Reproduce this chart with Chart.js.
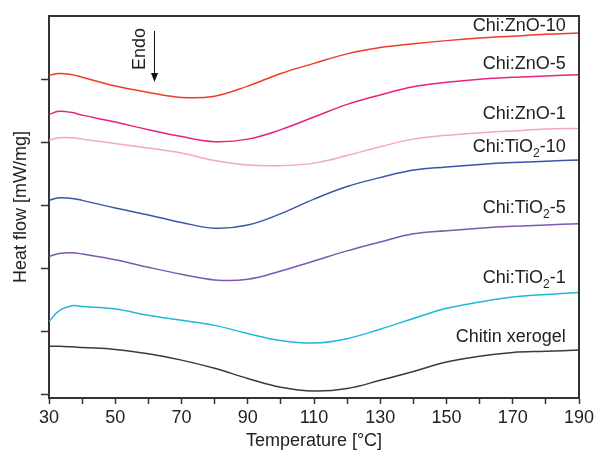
<!DOCTYPE html>
<html>
<head>
<meta charset="utf-8">
<script src="https://cdn.jsdelivr.net/npm/chart.js@4.4.1/dist/chart.umd.min.js"></script>
<style>
    html, body { margin: 0; padding: 0; background: #fff; }
    #wrap { width: 598px; height: 452px; }
</style>
</head>
<body>
<div id="wrap"><canvas id="dscChart" width="598" height="452"></canvas></div>
<script>
// temperature points (°C)
const Temps = [30, 33, 37, 40, 50, 60, 70, 80, 90, 100, 110, 120, 130, 140, 150, 160, 170, 180, 190];

// heat flow, arbitrary units (curves are stacked, axis has no labels)
const Zno_10 = [5.06, 5.09, 5.07, 5.03, 4.89, 4.79, 4.71, 4.73, 4.89, 5.09, 5.25, 5.40, 5.50, 5.56, 5.61, 5.65, 5.68, 5.71, 5.73];
const Zno_5 = [4.44, 4.49, 4.47, 4.43, 4.32, 4.20, 4.09, 4.01, 4.05, 4.20, 4.40, 4.60, 4.75, 4.88, 4.95, 5.00, 5.03, 5.05, 5.07];
const Zno_1 = [4.03, 4.07, 4.07, 4.05, 3.98, 3.91, 3.83, 3.71, 3.64, 3.63, 3.67, 3.79, 3.93, 4.05, 4.11, 4.15, 4.18, 4.21, 4.22];
const Tio_10 = [3.08, 3.12, 3.11, 3.08, 2.96, 2.85, 2.73, 2.64, 2.69, 2.87, 3.10, 3.30, 3.44, 3.56, 3.61, 3.65, 3.68, 3.70, 3.72];
const Tio_5 = [2.19, 2.24, 2.25, 2.23, 2.14, 2.02, 1.91, 1.82, 1.83, 1.96, 2.12, 2.28, 2.42, 2.55, 2.60, 2.64, 2.67, 2.69, 2.71];
const Tio_1 = [1.16, 1.33, 1.41, 1.40, 1.36, 1.26, 1.18, 1.10, 0.97, 0.86, 0.82, 0.89, 1.04, 1.21, 1.37, 1.47, 1.55, 1.59, 1.62];
const Chitin = [0.77, 0.77, 0.76, 0.75, 0.72, 0.65, 0.55, 0.42, 0.26, 0.12, 0.06, 0.10, 0.23, 0.37, 0.52, 0.61, 0.67, 0.69, 0.71];

const Y_Ticks = [0, 1, 2, 3, 4, 5];
const X_Ticks_Labelled = [30, 50, 70, 90, 110, 130, 150, 170, 190];

// label text split into [main, subscript, tail]
const Series_Names = [
    ['Chi:ZnO-10', '', ''],
    ['Chi:ZnO-5', '', ''],
    ['Chi:ZnO-1', '', ''],
    ['Chi:TiO', '2', '-10'],
    ['Chi:TiO', '2', '-5'],
    ['Chi:TiO', '2', '-1'],
    ['Chitin xerogel', '', '']
];
const Series_Data = [Zno_10, Zno_5, Zno_1, Tio_10, Tio_5, Tio_1, Chitin];
const Series_Colors = ['#ee3b2b', '#e8227f', '#f4a6c9', '#3a55a8', '#7d58b2', '#1fb8d6', '#3a3a3a'];
const Label_Lift = [7, 11, 14, 13, 16, 15, 13];

const Font_Family = "'Liberation Sans', Arial, Helvetica, sans-serif";
const Ink = '#222';

document.addEventListener('DOMContentLoaded', () => {
    const Ctx = document.getElementById('dscChart').getContext('2d');

    const Overlay_Plugin = {
        id: 'overlay',
        afterDatasetsDraw(Chart_Ref) {
            const C = Chart_Ref.ctx;
            const Area = Chart_Ref.chartArea;
            const X_Scale = Chart_Ref.scales.x;
            const Y_Scale = Chart_Ref.scales.y;
            C.save();

            // top and right frame
            C.strokeStyle = '#333';
            C.lineWidth = 2;
            C.beginPath();
            C.moveTo(Area.left - 1, Area.top);
            C.lineTo(Area.right, Area.top);
            C.lineTo(Area.right, Area.bottom + 1);
            C.stroke();

            // curve labels, right aligned
            const Right_X = X_Scale.getPixelForValue(186);
            C.fillStyle = Ink;
            C.textBaseline = 'middle';
            C.textAlign = 'left';
            Series_Names.forEach((Parts, I) => {
                const Vals = Series_Data[I];
                const Y = Y_Scale.getPixelForValue(Vals[Vals.length - 1]) - Label_Lift[I];
                C.font = `18px ${Font_Family}`;
                const W1 = C.measureText(Parts[0]).width;
                const W3 = C.measureText(Parts[2]).width;
                C.font = `12px ${Font_Family}`;
                const W2 = Parts[1] ? C.measureText(Parts[1]).width : 0;
                let X = Right_X - (W1 + W2 + W3);
                C.font = `18px ${Font_Family}`;
                C.fillText(Parts[0], X, Y);
                X += W1;
                if (Parts[1]) {
                    C.font = `12px ${Font_Family}`;
                    C.fillText(Parts[1], X, Y + 7);
                    X += W2;
                }
                C.font = `18px ${Font_Family}`;
                C.fillText(Parts[2], X, Y);
            });

            // Endo arrow
            const Arrow_X = Math.round(X_Scale.getPixelForValue(61.7)) + 0.5;
            const Arrow_Top = Area.top + 15;
            const Arrow_Tip = Area.top + 66;
            C.strokeStyle = '#111';
            C.lineWidth = 1;
            C.beginPath();
            C.moveTo(Arrow_X, Arrow_Top);
            C.lineTo(Arrow_X, Arrow_Tip - 6);
            C.stroke();
            C.fillStyle = '#111';
            C.beginPath();
            C.moveTo(Arrow_X - 3.5, Arrow_Tip - 9);
            C.lineTo(Arrow_X + 3.5, Arrow_Tip - 9);
            C.lineTo(Arrow_X, Arrow_Tip);
            C.closePath();
            C.fill();

            C.translate(X_Scale.getPixelForValue(57.5), Area.top + 33);
            C.rotate(-Math.PI / 2);
            C.fillStyle = Ink;
            C.font = `18px ${Font_Family}`;
            C.textAlign = 'center';
            C.textBaseline = 'middle';
            C.fillText('Endo', 0, 0);
            C.restore();
        }
    };

    new Chart(Ctx, {
        type: 'line',
        data: {
            labels: Temps,
            datasets: Series_Data.map((Vals, I) => ({
                label: Series_Names[I].join(''),
                data: Vals.map((V, J) => ({ x: Temps[J], y: V })),
                borderColor: Series_Colors[I],
                borderWidth: 1.5,
                pointRadius: 0,
                fill: false,
                tension: 0.4
            }))
        },
        options: {
            responsive: false,
            animation: false,
            layout: { padding: { top: 16, right: 19, left: 0, bottom: 0 } },
            plugins: {
                legend: { display: false },
                tooltip: { enabled: false }
            },
            scales: {
                x: {
                    type: 'linear',
                    min: 30,
                    max: 190,
                    afterFit: Scale => { Scale.height = 54; },
                    grid: { drawOnChartArea: false, tickLength: 6, tickColor: '#333', tickWidth: 1.5 },
                    border: { color: '#333', width: 2 },
                    ticks: {
                        stepSize: 10,
                        color: Ink,
                        padding: 3,
                        maxRotation: 0,
                        autoSkip: false,
                        font: { size: 18, family: Font_Family },
                        callback: V => X_Ticks_Labelled.includes(V) ? String(V) : ''
                    },
                    title: {
                        display: true,
                        text: 'Temperature [°C]',
                        color: Ink,
                        font: { size: 18, family: Font_Family },
                        padding: { top: 4, bottom: 0 }
                    }
                },
                y: {
                    type: 'linear',
                    min: -0.05,
                    max: 6,
                    afterFit: Scale => { Scale.width = 49; },
                    afterBuildTicks: Scale => { Scale.ticks = Y_Ticks.map(V => ({ value: V })); },
                    grid: { drawOnChartArea: false, tickLength: 8, tickColor: '#333', tickWidth: 1.5 },
                    border: { color: '#333', width: 2 },
                    ticks: { display: false },
                    title: {
                        display: true,
                        text: 'Heat flow [mW/mg]',
                        color: Ink,
                        font: { size: 18, family: Font_Family },
                        padding: { top: 10, bottom: 0 }
                    }
                }
            }
        },
        plugins: [Overlay_Plugin]
    });
});
</script>
</body>
</html>
